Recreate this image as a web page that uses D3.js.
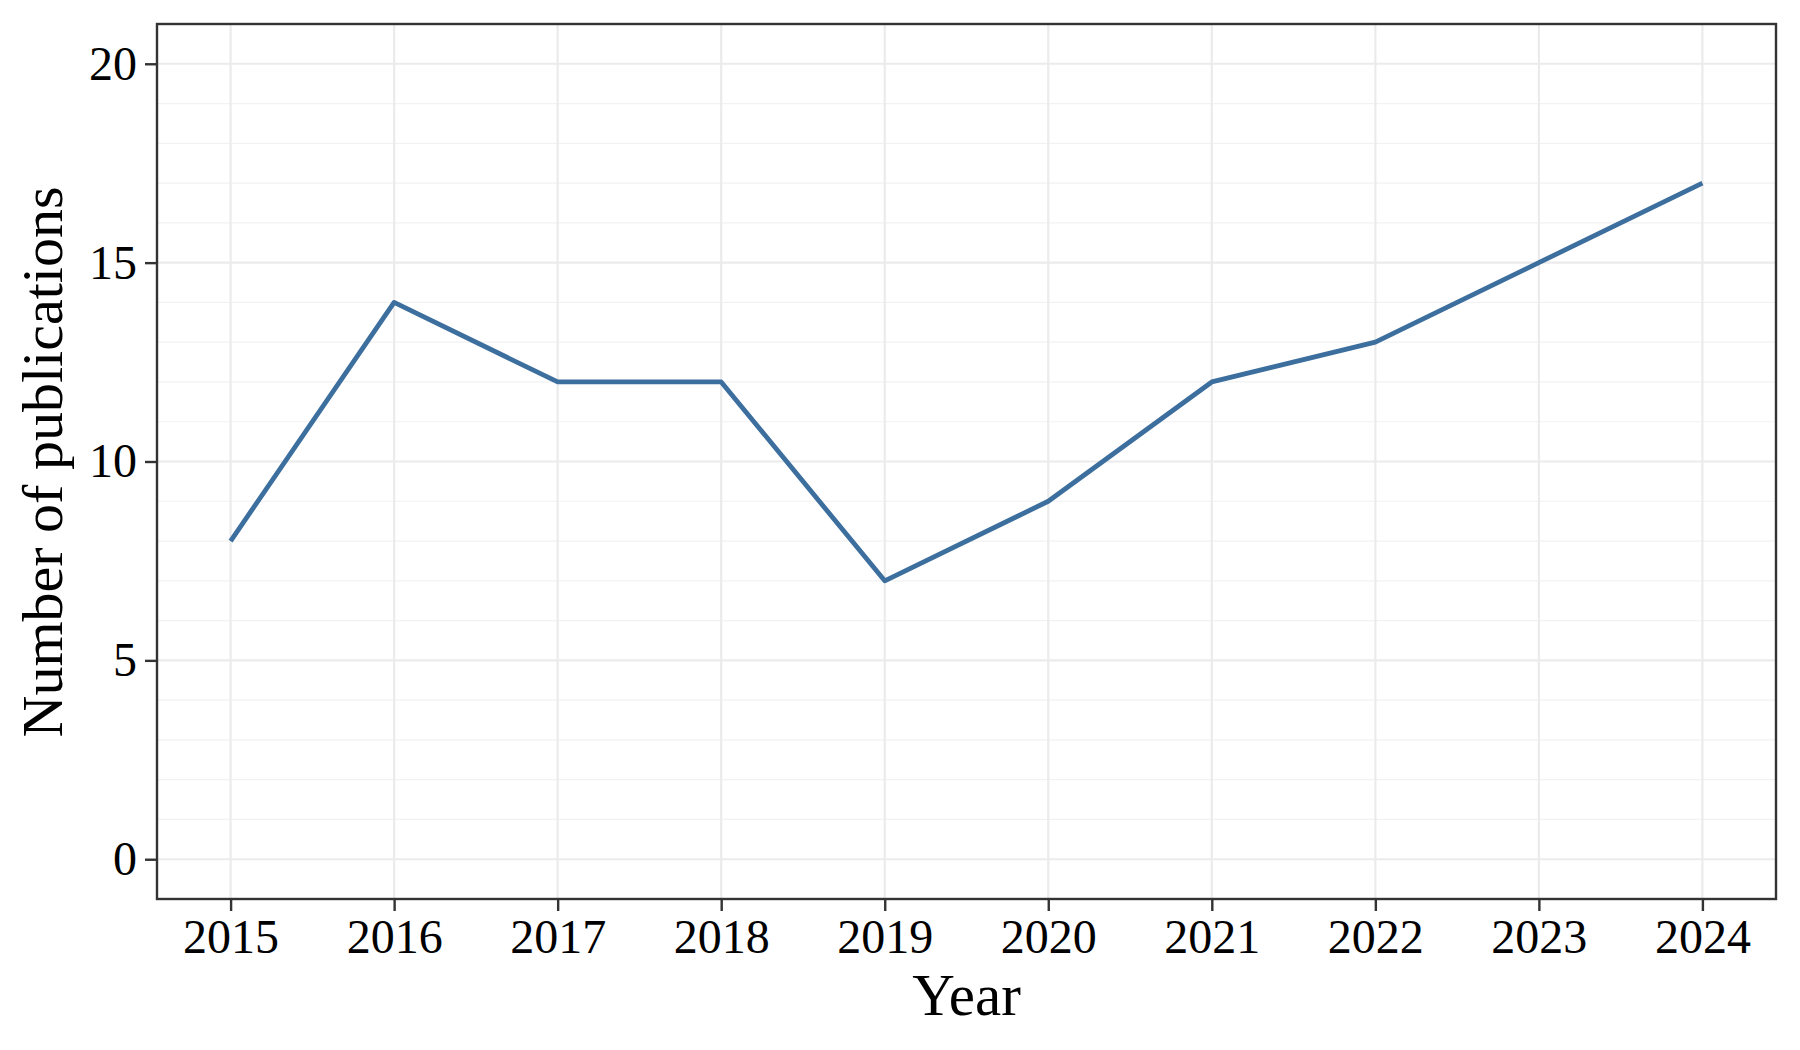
<!DOCTYPE html>
<html>
<head>
<meta charset="utf-8">
<script src="https://cdn.jsdelivr.net/npm/d3@7"></script>
<style>
  html, body { margin: 0; padding: 0; background: #fff; }
  svg { display: block; }
  text { font-family: "Liberation Serif", "Times New Roman", serif; fill: #000; }
</style>
</head>
<body>
<svg id="chart" width="1800" height="1050"></svg>
<script>
const years = [2015, 2016, 2017, 2018, 2019, 2020, 2021, 2022, 2023, 2024];
const publications = [8, 14, 12, 12, 7, 9, 12, 13, 15, 17];
const yTicks = [0, 5, 10, 15, 20];
const yMinor = d3.range(0, 21, 1).filter(v => v % 5 !== 0);

(function () {
const svg = d3.select("#chart");
const pLeft = 157, pRight = 1776, pTop = 24, pBottom = 899;

const x = d3.scaleLinear().domain([2015 - 0.45, 2024 + 0.45]).range([pLeft, pRight]);
const y = d3.scaleLinear().domain([-1, 21]).range([pBottom, pTop]);

const g = svg.append("g");

// minor gridlines
g.selectAll(".minor").data(yMinor).enter().append("line")
  .attr("x1", pLeft).attr("x2", pRight)
  .attr("y1", d => y(d)).attr("y2", d => y(d))
  .attr("stroke", "#f2f2f2").attr("stroke-width", 1.2);

// major gridlines
g.selectAll(".hmaj").data(yTicks).enter().append("line")
  .attr("x1", pLeft).attr("x2", pRight)
  .attr("y1", d => y(d)).attr("y2", d => y(d))
  .attr("stroke", "#ebebeb").attr("stroke-width", 2.2);
g.selectAll(".vmaj").data(years).enter().append("line")
  .attr("y1", pTop).attr("y2", pBottom)
  .attr("x1", d => x(d)).attr("x2", d => x(d))
  .attr("stroke", "#ebebeb").attr("stroke-width", 2.2);

// line
const line = d3.line().x((d, i) => x(years[i])).y(d => y(d));
g.append("path").datum(publications)
  .attr("d", line)
  .attr("fill", "none")
  .attr("stroke", "#3d6f9e")
  .attr("stroke-width", 4.8)
  .attr("stroke-linejoin", "round")
  .attr("stroke-linecap", "butt");

// panel border
g.append("rect")
  .attr("x", pLeft).attr("y", pTop)
  .attr("width", pRight - pLeft).attr("height", pBottom - pTop)
  .attr("fill", "none").attr("stroke", "#333333").attr("stroke-width", 2.4);

// axes
const xAxis = d3.axisBottom(x).tickValues(years).tickFormat(d3.format("d")).tickSize(12).tickPadding(8);
const xa = svg.append("g").attr("transform", `translate(0,${pBottom})`).call(xAxis);
xa.select(".domain").remove();
xa.selectAll(".tick line").attr("stroke", "#333333").attr("stroke-width", 2.4);
xa.selectAll(".tick text").attr("font-size", 48).attr("fill", "#000")
  .attr("font-family", "Liberation Serif, serif").attr("dy", "0.71em");

const yAxis = d3.axisLeft(y).tickValues(yTicks).tickSize(12).tickPadding(8);
const ya = svg.append("g").attr("transform", `translate(${pLeft},0)`).call(yAxis);
ya.select(".domain").remove();
ya.selectAll(".tick line").attr("stroke", "#333333").attr("stroke-width", 2.4);
ya.selectAll(".tick text").attr("font-size", 48).attr("fill", "#000")
  .attr("font-family", "Liberation Serif, serif");

// titles
svg.append("text")
  .attr("x", (pLeft + pRight) / 2).attr("y", 1015)
  .attr("text-anchor", "middle").attr("font-size", 59)
  .text("Year");
svg.append("text")
  .attr("transform", `translate(62,462) rotate(-90)`)
  .attr("text-anchor", "middle").attr("font-size", 58)
  .text("Number of publications");
})();
</script>
</body>
</html>
